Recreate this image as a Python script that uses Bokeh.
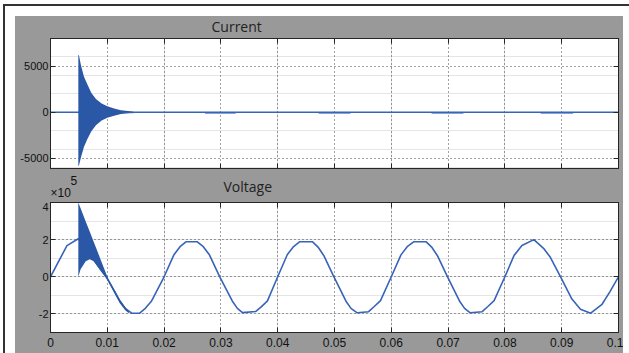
from bokeh.plotting import figure
from bokeh.models import FixedTicker, LinearAxis, Range1d, Label, Column, Grid
from bokeh.embed import file_html
from bokeh.resources import INLINE

# ---------------- data ----------------
time_ticks = [0, 0.01, 0.02, 0.03, 0.04, 0.05, 0.06, 0.07, 0.08, 0.09, 0.1]
time_tick_labels = ["0", "0.01", "0.02", "0.03", "0.04", "0.05", "0.06", "0.07", "0.08", "0.09", "0.1"]

current_ticks = [-5000, 0, 5000]
current_tick_labels = ["-5000", "0", "5000"]
voltage_ticks = [-2, 0, 2, 4]
voltage_tick_labels = ["-2", "0", "2", "4"]

# Current (A): steady trace
current_t = [0.0, 0.1]
current_v = [0.0, 0.0]
# Current inrush burst envelope (A)
burst_i_t = [0.0049, 0.0050, 0.0054, 0.0059, 0.0065, 0.0072, 0.0080, 0.0090, 0.0100, 0.0112, 0.0124, 0.0136, 0.0146]
burst_i_upper = [6200, 6200, 5000, 3850, 3000, 2100, 1450, 950, 650, 400, 230, 130, 60]
burst_i_lower = [-5800, -5800, -4800, -3750, -2900, -2050, -1400, -900, -600, -380, -200, -110, -50]
# small current dips (A)
dip_start = [0.0127, 0.0272, 0.0472, 0.0671, 0.0863]
dip_end = [0.0146, 0.0326, 0.0528, 0.0727, 0.0920]
dip_depth = [-120, -150, -150, -150, -150]

# Voltage (x 10^5 V)
voltage_t = [0.0, 0.0029, 0.0049, 0.0098,
             0.0103, 0.0113, 0.0122, 0.0132, 0.0143, 0.0157, 0.0167, 0.0178, 0.0200,
             0.0217, 0.0228, 0.0239, 0.0258, 0.0269, 0.0280, 0.0298,
             0.0320, 0.0329, 0.0338, 0.0361, 0.0371, 0.0382, 0.0400,
             0.0417, 0.0428, 0.0439, 0.0461, 0.0471, 0.0481, 0.0499,
             0.0520, 0.0529, 0.0540, 0.0560, 0.0570, 0.0581, 0.0600,
             0.0617, 0.0628, 0.0640, 0.0661, 0.0671, 0.0681, 0.0699,
             0.0720, 0.0729, 0.0739, 0.0760, 0.0770, 0.0781, 0.0800,
             0.0816, 0.0830, 0.0851, 0.0869, 0.0880, 0.0898,
             0.0918, 0.0933, 0.0951, 0.0971, 0.0985, 0.1000]
voltage_v = [0.0, 1.68, 2.05, 0.0,
             -0.25, -0.8, -1.3, -1.72, -1.96, -1.96, -1.7, -1.3, 0.0,
             1.17, 1.62, 1.89, 1.89, 1.62, 1.17, 0.0,
             -1.30, -1.70, -1.93, -1.87, -1.62, -1.30, 0.0,
             1.2, 1.63, 1.89, 1.89, 1.6, 1.15, 0.0,
             -1.3, -1.7, -1.94, -1.88, -1.6, -1.28, 0.0,
             1.18, 1.62, 1.89, 1.89, 1.6, 1.15, 0.0,
             -1.3, -1.7, -1.94, -1.88, -1.6, -1.28, 0.0,
             1.14, 1.68, 2.0, 1.5, 1.05, 0.0,
             -1.2, -1.75, -1.96, -1.48, -0.8, 0.0]
# Voltage transient envelope (x 10^5 V)
burst_v_t = [0.0049, 0.0053, 0.0062, 0.0069, 0.0076, 0.0088, 0.0098, 0.0103, 0.0113, 0.0122, 0.0132, 0.0138]
burst_v_upper = [4.0, 3.69, 2.98, 2.44, 1.89, 0.95, 0.17, -0.2, -0.72, -1.22, -1.66, -1.86]
burst_v_lower = [0.0, 0.41, 0.83, 0.95, 0.83, 0.32, -0.07, -0.35, -0.92, -1.42, -1.82, -1.96]

# ---------------- style ----------------
GRAY = "#999999"
LINE = "#3764b8"
FILL = "#2a57a6"
AX = "#262626"
FONT = "Liberation Sans"
TITLE_FONT = "Open Sans"
TXT = "#111111"


def make_axis(ticker, labels=None, show=True, size="12px", standoff=5):
    ax = LinearAxis(ticker=ticker, major_tick_in=5, major_tick_out=0,
                    minor_tick_line_color=None, axis_line_color=AX, axis_line_width=1,
                    major_tick_line_color=AX,
                    major_label_standoff=standoff if show else 0,
                    major_label_text_font=FONT,
                    major_label_text_font_size=size if show else "0px",
                    major_label_text_color=TXT if show else None)
    if labels is not None and show:
        ax.major_label_overrides = dict(zip(ticker.ticks, labels))
    return ax


def make_fig(height, y_range, yticks, ylabels, bottom, show_x):
    p = figure(width=608, height=height, x_range=Range1d(0, 0.1), y_range=y_range,
               output_backend="svg", toolbar_location=None,
               x_axis_location=None, y_axis_location=None,
               border_fill_color=GRAY, background_fill_color="white",
               min_border_left=35, min_border_right=5,
               min_border_top=0, min_border_bottom=bottom)
    p.outline_line_color = AX
    xt = FixedTicker(ticks=time_ticks)
    yt = FixedTicker(ticks=yticks)
    p.add_layout(make_axis(xt, time_tick_labels, show_x, "12px", 5), "below")
    p.add_layout(make_axis(FixedTicker(ticks=time_ticks), None, False), "above")
    p.add_layout(make_axis(yt, ylabels, True, "11px", 2), "left")
    p.add_layout(make_axis(FixedTicker(ticks=yticks), None, False), "right")
    for dim, tk in ((0, xt), (1, yt)):
        p.add_layout(Grid(dimension=dim, ticker=tk, grid_line_color="#444444",
                          grid_line_dash="1 3", grid_line_width=1))
    return p


def make_header(height, texts):
    h = figure(width=608, height=height, x_range=Range1d(0, 1), y_range=Range1d(0, 1),
               output_backend="svg", toolbar_location=None,
               x_axis_location=None, y_axis_location=None,
               min_border_left=35, min_border_right=5, min_border_top=0, min_border_bottom=0,
               border_fill_color=GRAY, background_fill_color=GRAY)
    h.outline_line_color = None
    h.center = []
    for text, dx, dy, size, font, color in texts:
        h.add_layout(Label(x=0, y=0, x_offset=dx, y_offset=dy, text=text,
                           text_font=font, text_font_size=size, text_color=color,
                           text_baseline="alphabetic", text_align="left"))
    return h


h1 = make_header(22, [("Current", 161, 12, "14px", TITLE_FONT, "#222222")])

p1 = make_fig(134, Range1d(-6100, 8000), current_ticks, current_tick_labels, 4, False)
p1.line(current_t, current_v, line_color=LINE, line_width=1.6)
p1.varea(x=burst_i_t, y1=burst_i_lower, y2=burst_i_upper, fill_color=FILL)
p1.quad(left=dip_start, right=dip_end, top=[0] * len(dip_start), bottom=dip_depth,
        fill_color=LINE, line_color=None, fill_alpha=0.8)

h2 = make_header(30, [("Voltage", 173, 16, "14px", TITLE_FONT, "#222222"),
                      ("×10", 0, 10, "12px", FONT, TXT),
                      ("5", 20, 22, "12px", FONT, TXT)])

p2 = make_fig(151, Range1d(-3, 4), voltage_ticks, voltage_tick_labels, 21, True)
p2.line(voltage_t, voltage_v, line_color=LINE, line_width=1.6)
p2.varea(x=burst_v_t, y1=burst_v_lower, y2=burst_v_upper, fill_color=FILL)

inner = Column(children=[h1, p1, h2, p2], spacing=0, styles={"background-color": GRAY})
root = Column(children=[inner],
              styles={"margin-left": "3px", "margin-top": "4px",
                      "border-top": "2px solid #333333", "border-left": "2px solid #333333",
                      "padding-top": "10px", "padding-left": "10px", "padding-right": "6px",
                      "background-color": "white"})

open("out.html", "w").write(file_html(root, INLINE))
